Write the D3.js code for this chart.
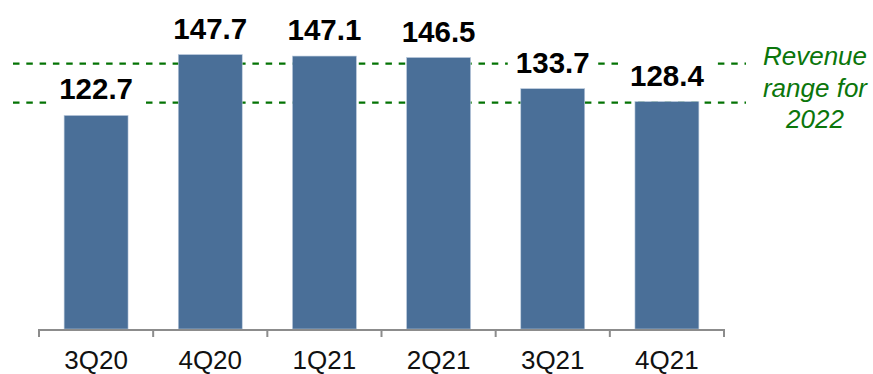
<!DOCTYPE html>
<html>
<head>
<meta charset="utf-8">
<script src="https://cdn.jsdelivr.net/npm/d3@7"></script>
<style>
  html, body { margin: 0; padding: 0; background: #fff; }
  svg { display: block; }
</style>
</head>
<body>
<svg id="chart" width="873" height="374"></svg>
<script>
// Quarterly revenue
const quarters = ["3Q20", "4Q20", "1Q21", "2Q21", "3Q21", "4Q21"];
const revenue = [122.7, 147.7, 147.1, 146.5, 133.7, 128.4];
// Guidance band for 2022 (low, high)
const guidanceRange = [128, 144];
const guidanceLabel = ["Revenue", "range for", "2022"];

const svg = d3.select("#chart");
const font = "'Liberation Sans', Arial, sans-serif";

const x = d3.scaleBand()
  .domain(quarters)
  .range([39, 724])
  .paddingInner(0.44)
  .paddingOuter(0.22);

const y = d3.scaleLinear()
  .domain([35, 150])
  .range([329, 49]);

// Guidance lines
svg.append("g")
  .selectAll("line")
  .data(guidanceRange)
  .join("line")
  .attr("x1", 13)
  .attr("x2", 746)
  .attr("y1", d => y(d))
  .attr("y2", d => y(d))
  .attr("stroke", "#047304")
  .attr("stroke-width", 2.2)
  .attr("stroke-dasharray", "6.5,6.8");

// Bars
svg.append("g")
  .selectAll("rect")
  .data(revenue)
  .join("rect")
  .attr("x", (d, i) => x(quarters[i]))
  .attr("width", x.bandwidth())
  .attr("y", d => y(d))
  .attr("height", d => y.range()[0] - y(d))
  .attr("fill", "#4a6f98")
  .attr("stroke", "#b9c9dc")
  .attr("stroke-width", 0.6);

// Category axis with ticks at band boundaries
const axisY = 330;
const axis = svg.append("g").attr("stroke", "#8c8c8c").attr("stroke-width", 2).attr("fill", "none");
axis.append("line")
  .attr("x1", x.range()[0]).attr("x2", x.range()[1])
  .attr("y1", axisY).attr("y2", axisY);
const boundaries = quarters.map(q => x(q) - x.step() * x.paddingInner() / 2).concat([x.range()[1]]);
boundaries[0] = x.range()[0];
axis.selectAll("line.tick")
  .data(boundaries)
  .join("line")
  .attr("class", "tick")
  .attr("x1", d => d).attr("x2", d => d)
  .attr("y1", axisY - 1).attr("y2", axisY + 7);

svg.append("g")
  .selectAll("text")
  .data(quarters)
  .join("text")
  .attr("x", d => x(d) + x.bandwidth() / 2)
  .attr("y", 369)
  .attr("text-anchor", "middle")
  .attr("font-family", font)
  .attr("font-size", 26)
  .attr("fill", "#111")
  .text(d => d);

// Value labels on a white backing so the guidance lines break around them
const labels = svg.append("g")
  .selectAll("g")
  .data(revenue)
  .join("g")
  .attr("transform", (d, i) => `translate(${x(quarters[i]) + x.bandwidth() / 2},${y(d) - 16})`);

labels.append("rect")
  .attr("x", -45)
  .attr("y", -25)
  .attr("width", 90)
  .attr("height", 31)
  .attr("fill", "#fff");

labels.append("text")
  .attr("text-anchor", "middle")
  .attr("font-family", font)
  .attr("font-weight", "bold")
  .attr("font-size", 29.5)
  .attr("fill", "#000")
  .text(d => d.toFixed(1));

// Guidance caption
svg.append("text")
  .attr("font-family", font)
  .attr("font-style", "italic")
  .attr("font-size", 26)
  .attr("fill", "#0b760b")
  .attr("text-anchor", "middle")
  .selectAll("tspan")
  .data(guidanceLabel)
  .join("tspan")
  .attr("x", 815)
  .attr("y", (d, i) => 65 + i * 31.5)
  .text(d => d);
</script>
</body>
</html>
